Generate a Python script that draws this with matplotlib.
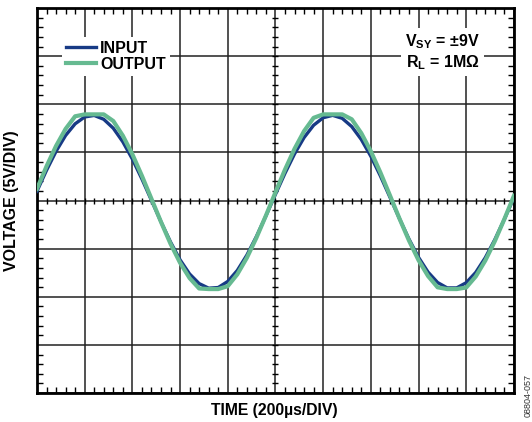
import numpy as np
import matplotlib
matplotlib.use("Agg")
import matplotlib.pyplot as plt

plt.rcParams['font.family'] = ['Liberation Sans', 'DejaVu Sans']
plt.rcParams['font.weight'] = 'bold'
plt.rcParams['mathtext.fontset'] = 'custom'
plt.rcParams['mathtext.rm'] = 'Liberation Sans:bold'
plt.rcParams['mathtext.it'] = 'Liberation Sans:bold'
plt.rcParams['mathtext.bf'] = 'Liberation Sans:bold'

# time in us (200us/div), sampled every 40us
time_us = [0, 40, 80, 120, 160, 200, 240, 280, 320, 360,
           400, 440, 480, 520, 560, 600, 640, 680, 720, 760,
           800, 840, 880, 920, 960, 1000, 1040, 1080, 1120, 1160,
           1200, 1240, 1280, 1320, 1360, 1400, 1440, 1480, 1520, 1560,
           1600, 1640, 1680, 1720, 1760, 1800, 1840, 1880, 1920, 1960, 2000]

# volts
v_input = [0.97, 3.14, 5.11, 6.76, 7.97, 8.68, 8.84, 8.44, 7.51, 6.10,
           4.31, 2.24, 0.02, -2.21, -4.31, -6.16, -7.63, -8.63, -9.11, -9.04,
           -8.41, -7.27, -5.68, -3.75, -1.60, 0.64, 2.83, 4.84, 6.54, 7.82,
           8.60, 8.85, 8.54, 7.68, 6.34, 4.60, 2.56, 0.35, -1.88, -4.01,
           -5.90, -7.44, -8.52, -9.08, -9.08, -8.54, -7.47, -5.94, -4.06, -1.94, 0.30]

v_output = [1.21, 3.55, 5.67, 7.44, 8.75, 8.95, 8.95, 8.95, 8.26, 6.74,
            4.81, 2.57, 0.18, -2.22, -4.49, -6.47, -8.06, -9.14, -9.20, -9.20,
            -8.90, -7.67, -5.96, -3.88, -1.57, 0.85, 3.21, 5.37, 7.21, 8.59,
            8.95, 8.95, 8.95, 8.44, 7.00, 5.12, 2.92, 0.54, -1.87, -4.16,
            -6.20, -7.85, -9.02, -9.20, -9.20, -9.04, -7.89, -6.24, -4.22, -1.93, 0.49]

navy = '#173a85'
green = '#66ba91'

fig = plt.figure(figsize=(5.32, 4.22), dpi=100)
ax = fig.add_axes([0.0695, 0.0687, 0.8965, 0.9123])

ax.set_xlim(0, 2000)
ax.set_ylim(-20, 20)

ax.set_xticks(np.arange(0, 2001, 200))
ax.set_yticks(np.arange(-20, 21, 5))
ax.set_xticks(np.arange(0, 2001, 40), minor=True)
ax.set_yticks(np.arange(-20, 21, 1), minor=True)
ax.tick_params(which='major', length=0, labelbottom=False, labelleft=False)
ax.tick_params(which='minor', direction='in', length=4, width=1, color='black',
               top=True, right=True)
ax.grid(True, which='major', color='#222222', lw=1.1)
for s in ax.spines.values():
    s.set_linewidth(2)

# ticks on the centre axes
ax.plot(np.arange(40, 2000, 40), np.zeros(49), ls='none', marker='|',
        ms=5, mew=1, color='black', zorder=2)
ax.plot(np.full(39, 1000), np.arange(-19, 20, 1), ls='none', marker='_',
        ms=5, mew=1, color='black', zorder=2)

ax.plot(time_us, v_input, color=navy, lw=2.4, zorder=3, label='INPUT')
ax.plot(time_us, v_output, color=green, lw=3.0, zorder=4, label='OUTPUT')

leg = ax.legend(loc='upper left', bbox_to_anchor=(0.052, 0.926), frameon=True,
                fancybox=False, edgecolor='none', facecolor='white', framealpha=1,
                handlelength=1.9, handletextpad=0.25, labelspacing=0.08,
                borderpad=0.25, borderaxespad=0.0,
                prop={'weight': 'bold', 'size': 11.5})
leg.set_zorder(5)

ax.text(0.929, 0.937, 'V$_{\\mathrm{SY}}$ = ±9V\nR$_{\\mathrm{L}}$ = 1MΩ', transform=ax.transAxes,
        ha='right', va='top', fontsize=11.5, fontweight='bold', linespacing=1.15,
        bbox=dict(facecolor='white', edgecolor='none', pad=3), zorder=5)

fig.text(0.022, 0.525, 'VOLTAGE (5V/DIV)', rotation=90, ha='center', va='center',
         fontsize=11.5, fontweight='bold')
fig.text(0.515, 0.028, 'TIME (200µs/DIV)', ha='center', va='center',
         fontsize=11.3, fontweight='bold')
fig.text(0.992, 0.062, '08804-057', rotation=90, ha='center', va='center',
         fontsize=6.5, fontweight='normal', color='#333333')

fig.savefig('out.png', dpi=100)
